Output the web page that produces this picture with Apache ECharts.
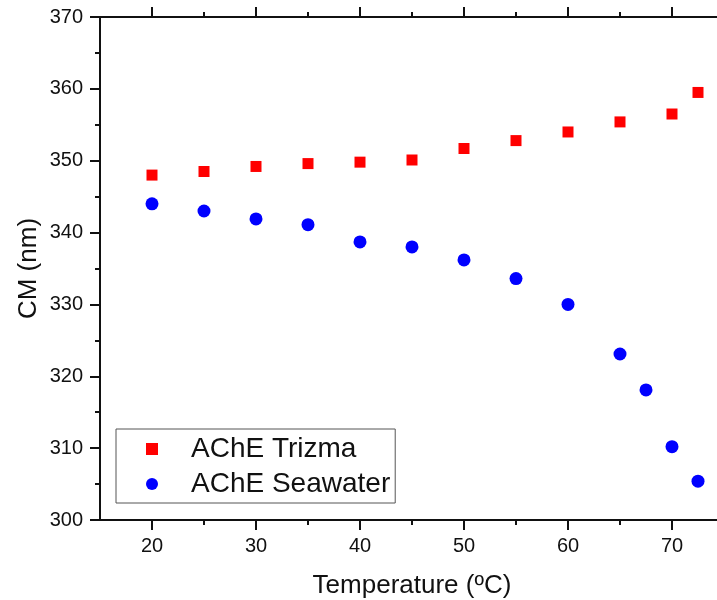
<!DOCTYPE html>
<html>
<head>
<meta charset="utf-8">
<script src="https://cdn.jsdelivr.net/npm/echarts@6/dist/echarts.min.js"></script>
<style>html,body{margin:0;padding:0;background:#fff}#c{width:717px;height:600px}</style>
</head>
<body>
<div id="c"></div>
<script>
var temps = [20, 25, 30, 35, 40, 45, 50, 55, 60, 65, 70, 72.5];
var trizma = [348.0, 348.5, 349.2, 349.6, 349.8, 350.1, 351.7, 352.8, 354.0, 355.4, 356.5, 359.5];
var seaTemps = [20, 25, 30, 35, 40, 45, 50, 55, 60, 65, 67.5, 70, 72.5];
var seawater = [344.0, 343.0, 341.9, 341.1, 338.7, 338.0, 336.2, 333.6, 330.0, 323.1, 318.1, 310.2, 305.4];
var xMajor = [20, 30, 40, 50, 60, 70];
var xMinor = [25, 35, 45, 55, 65, 75];
var seriesNames = ['AChE Trizma', 'AChE Seawater'];
var xTitle = 'Temperature (ºC)';
var yTitle = 'CM (nm)';

var FONT = '"Liberation Sans", Arial, sans-serif';
var INK = '#111';
function zip(a, b) { return a.map(function (v, i) { return [v, b[i]]; }); }

function xAx(pos, ticks, len, labels, line) {
  return {
    type: 'value', position: pos, min: 15, max: 75,
    axisLine: { show: line, onZero: false, lineStyle: { color: INK, width: 2 } },
    axisTick: { show: true, inside: false, length: len, customValues: ticks, lineStyle: { color: INK, width: 2 } },
    axisLabel: labels ? { show: true, customValues: xMajor, margin: 16, color: INK, fontSize: 20, fontFamily: FONT } : { show: false },
    splitLine: { show: false },
    name: labels ? xTitle : '',
    nameLocation: 'middle', nameGap: 53, nameMoveOverlap: false,
    nameTextStyle: { color: INK, fontSize: 26, fontFamily: FONT }
  };
}

var chart = echarts.init(document.getElementById('c'), null, { renderer: 'canvas' });
chart.setOption({
  animation: false,
  backgroundColor: '#fff',
  grid: { left: 100, top: 17, width: 624, height: 503, containLabel: false, outerBoundsMode: 'none' },
  xAxis: [
    xAx('bottom', xMajor, 10, true, true),
    xAx('bottom', xMinor, 5, false, false),
    xAx('top', xMajor, 10, false, true),
    xAx('top', xMinor, 5, false, false)
  ],
  yAxis: {
    type: 'value', min: 300, max: 370, interval: 10,
    axisLine: { show: true, onZero: false, lineStyle: { color: INK, width: 2 } },
    axisTick: { show: true, inside: false, length: 10, lineStyle: { color: INK, width: 2 } },
    minorTick: { show: true, splitNumber: 2, length: 5, lineStyle: { color: INK, width: 2 } },
    axisLabel: { margin: 17, color: INK, fontSize: 20, fontFamily: FONT },
    splitLine: { show: false },
    name: yTitle, nameLocation: 'middle', nameGap: 58, nameRotate: 90, nameMoveOverlap: false,
    nameTextStyle: { color: INK, fontSize: 26, fontFamily: FONT }
  },
  legend: {
    orient: 'vertical', left: 116, top: 429,
    padding: [6, 5, 5, 30], itemGap: 7,
    itemWidth: 12, itemHeight: 12,
    borderColor: '#555', borderWidth: 1, backgroundColor: '#fff',
    textStyle: { color: INK, fontSize: 28, fontFamily: FONT, padding: [0, 0, 0, 28] },
    data: [
      { name: seriesNames[0], icon: 'rect' },
      { name: seriesNames[1], icon: 'circle' }
    ]
  },
  series: [
    { name: seriesNames[0], type: 'scatter', xAxisIndex: 0, symbol: 'rect', symbolSize: 11,
      itemStyle: { color: '#ff0000', opacity: 1 }, data: zip(temps, trizma) },
    { name: seriesNames[1], type: 'scatter', xAxisIndex: 0, symbol: 'circle', symbolSize: 13,
      itemStyle: { color: '#0000ff', opacity: 1 }, data: zip(seaTemps, seawater) }
  ]
});
</script>
</body>
</html>
